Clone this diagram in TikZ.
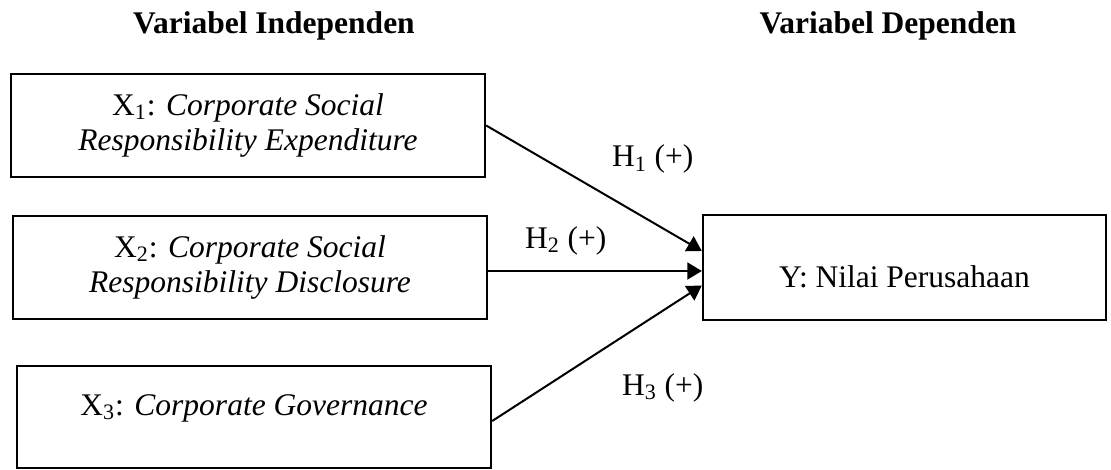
\documentclass[tikz,border=0pt]{standalone}
\usepackage{fontspec}
\setmainfont{Liberation Serif}
\usetikzlibrary{arrows.meta}

\begin{document}
\begin{tikzpicture}[x=0.5pt, y=-0.5pt,
    varbox/.style={draw, line width=1.2pt, minimum width=237pt, minimum height=51.5pt, inner sep=0pt, align=center, font=\fontsize{15.75pt}{17.75pt}\selectfont},
    judul/.style={anchor=base, font=\fontsize{15.75pt}{17.75pt}\selectfont\bfseries},
    hipo/.style={anchor=base west, font=\fontsize{15.75pt}{17.75pt}\selectfont},
    panah/.style={line width=1pt, -{Triangle[length=7.25pt, width=8.5pt]}}]

    \useasboundingbox (0,0) rectangle (1111,470);

    \node[judul] (jdlx) at (274,34) {Variabel Independen};
    \node[judul] (jdly) at (888,34) {Variabel Dependen};

    \node[varbox] (x1) at (248,125.5) {X\textsubscript{1}: \textit{Corporate Social}\\\textit{Responsibility Expenditure}};
    \node[varbox] (x2) at (250,267.5) {X\textsubscript{2}: \textit{Corporate Social}\\\textit{Responsibility Disclosure}};
    \node[varbox, minimum height=51pt, text height=10.75pt, text depth=12.75pt] (x3) at (254,417) {X\textsubscript{3}: \textit{Corporate Governance}};
    \node[varbox, minimum width=201.5pt, minimum height=52.5pt, text height=19.5pt, text depth=0pt] (y) at (904.5,267.5) {Y: Nilai Perusahaan};

    \draw[panah] (x1.east) -- ([yshift=8.25pt]y.west);
    \draw[panah] ([yshift=-1.75pt]x2.east) -- ([yshift=-1.75pt]y.west);
    \draw[panah] ([yshift=-2pt]x3.east) -- ([yshift=-9pt]y.west);

    \node[hipo] (h1) at (605,167) {H\textsubscript{1} (+)};
    \node[hipo] (h2) at (518,248) {H\textsubscript{2} (+)};
    \node[hipo] (h3) at (615,395) {H\textsubscript{3} (+)};

\end{tikzpicture}
\end{document}
